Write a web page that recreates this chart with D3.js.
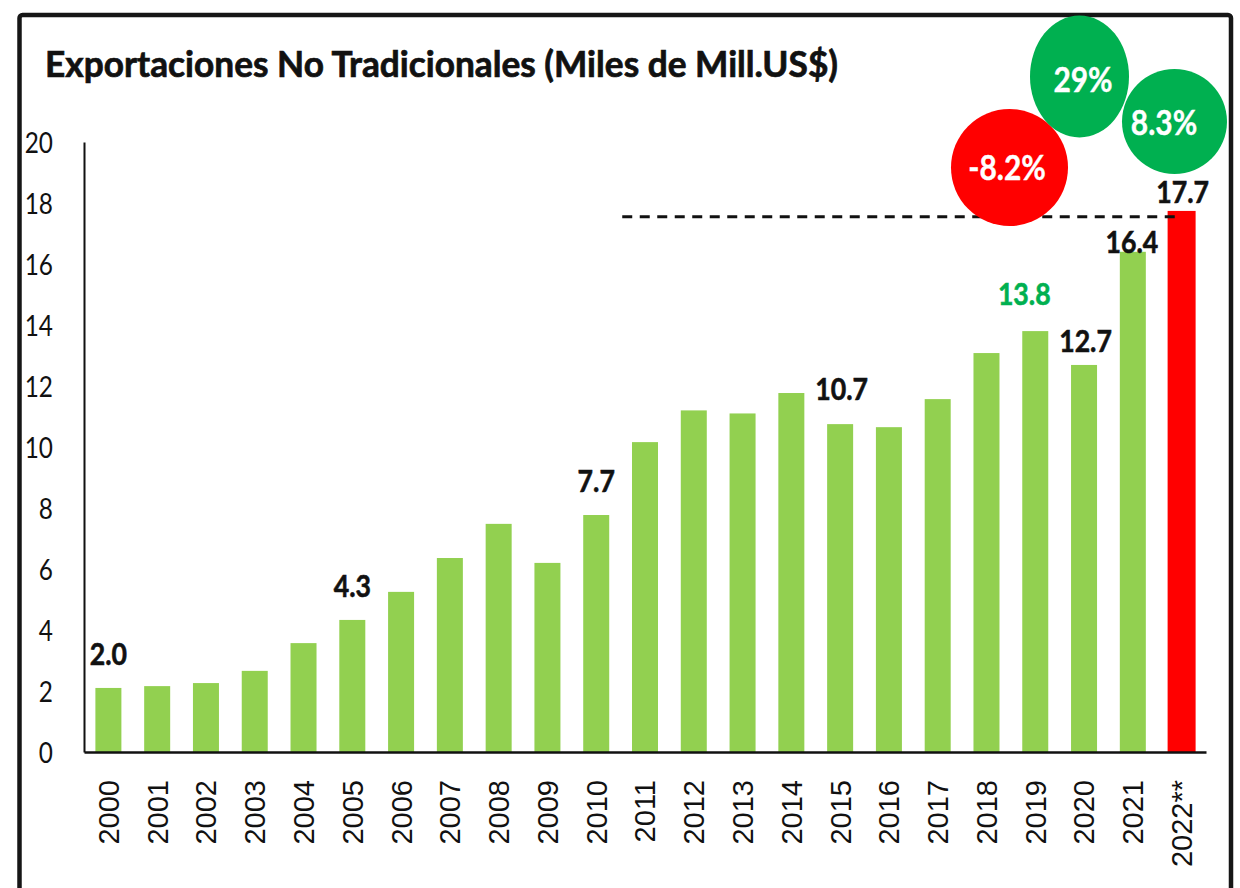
<!DOCTYPE html>
<html>
<head>
<meta charset="utf-8">
<script src="https://cdn.jsdelivr.net/npm/d3@7/dist/d3.min.js"></script>
<style>
  html, body { margin: 0; padding: 0; background: #fff; }
  svg { display: block; }
</style>
</head>
<body>
<svg id="chart" width="1240" height="888"></svg>
<script>
// ---- data ----
const years = ["2000","2001","2002","2003","2004","2005","2006","2007","2008","2009","2010",
               "2011","2012","2013","2014","2015","2016","2017","2018","2019","2020","2021","2022**"];
const values = [2.1, 2.16, 2.26, 2.66, 3.57, 4.33, 5.25, 6.36, 7.48, 6.2, 7.77,
                10.16, 11.2, 11.1, 11.77, 10.75, 10.65, 11.57, 13.08, 13.8, 12.69, 16.4, 17.74];
const yTicks = [0, 2, 4, 6, 8, 10, 12, 14, 16, 18, 20];
const labelYears = ["2000", "2005", "2010", "2015", "2019", "2020", "2021", "2022**"];
const labelTexts = ["2.0", "4.3", "7.7", "10.7", "13.8", "12.7", "16.4", "17.7"];
const growthTexts = ["-8.2%", "29%", "8.3%"];
const referenceLevel = 17.55;
const title = "Exportaciones No Tradicionales (Miles de Mill.US$)";

// ---- layout ----
const svg = d3.select("#chart");
const x = d3.scaleBand().domain(years).range([84, 1206]).paddingInner(0.467).paddingOuter(0.2335);
const y = d3.scaleLinear().domain([0, 20]).range([752, 142]);

// frame
svg.append("rect").attr("x", 19.5).attr("y", 15).attr("width", 1211.5).attr("height", 900)
  .attr("rx", 3).attr("fill", "none").attr("stroke", "#161616").attr("stroke-width", 4.5);

// title
svg.append("text").attr("x", 45).attr("y", 77)
  .attr("font-family", "Lato, 'Open Sans', sans-serif").attr("font-weight", 700)
  .attr("font-size", 36).attr("fill", "#111").attr("stroke", "#111").attr("stroke-width", 0.7)
  .attr("textLength", 793).attr("lengthAdjust", "spacingAndGlyphs")
  .text(title);

// bars
svg.append("g").selectAll("rect").data(years).join("rect")
  .attr("x", d => x(d) - (d === "2022**" ? 1 : 0))
  .attr("width", d => x.bandwidth() + (d === "2022**" ? 2 : 0))
  .attr("y", (d, i) => y(values[i]))
  .attr("height", (d, i) => y(0) - y(values[i]))
  .attr("fill", d => d === "2022**" ? "#FF0000" : "#92D050");

// y axis
const yAxis = svg.append("g").attr("transform", "translate(84,0)")
  .call(d3.axisLeft(y).tickValues(yTicks).tickSize(0).tickPadding(31).tickFormat(d3.format("d")));
yAxis.select(".domain").attr("stroke", "#111").attr("stroke-width", 2);
yAxis.selectAll("text")
  .attr("font-family", "Lato, 'Open Sans', sans-serif").attr("font-size", 29).attr("fill", "#111")
  .attr("x", null).attr("dy", "0.36em")
  .attr("transform", "translate(-31,0) scale(0.84,1)");

// x axis
const xAxis = svg.append("g").attr("transform", "translate(0,752)")
  .call(d3.axisBottom(x).tickSize(0).tickPadding(0));
xAxis.select(".domain").attr("stroke", "#111").attr("stroke-width", 2.5);
xAxis.selectAll("text")
  .attr("font-family", "'Liberation Sans', Arial, sans-serif").attr("font-size", 29).attr("fill", "#111")
  .attr("y", 0).attr("x", 0).attr("dy", "0.36em")
  .attr("text-anchor", "end")
  .attr("transform", "translate(0,28) rotate(-90)");

// reference dashed line
svg.append("line")
  .attr("x1", x("2011") - x.step() * 0.2).attr("x2", x("2022**") + x.bandwidth() / 2)
  .attr("y1", y(referenceLevel)).attr("y2", y(referenceLevel))
  .attr("stroke", "#111").attr("stroke-width", 3).attr("stroke-dasharray", "10,7.5");

// data labels
const labelShift = {"2000": [0, 23], "2005": [0, 23], "2010": [0, 23], "2015": [1.5, 24],
                    "2019": [-11, 26], "2020": [1.5, 13], "2021": [-1, -1], "2022**": [1, 8]};
labelYears.forEach((yr, i) => {
  const v = values[years.indexOf(yr)];
  const cx = x(yr) + x.bandwidth() / 2 + labelShift[yr][0];
  const cy = y(v) - labelShift[yr][1];
  const col = yr === "2019" ? "#00B050" : "#111";
  svg.append("text")
    .attr("transform", `translate(${cx},${cy}) scale(0.86,1)`)
    .attr("text-anchor", "middle")
    .attr("font-family", "Lato, 'Open Sans', sans-serif").attr("font-weight", 700)
    .attr("font-size", 31)
    .attr("fill", col).attr("stroke", col).attr("stroke-width", 0.6)
    .text(labelTexts[i]);
});

// growth bubbles
const bubbles = [
  {cx: 1009.5, cy: 167.5, rx: 58.5, ry: 58.5, fill: "#FF0000", tx: 1007, ty: 167.5},
  {cx: 1079.5, cy: 76.5, rx: 49.5, ry: 61, fill: "#00B050", tx: 1083, ty: 80},
  {cx: 1174.5, cy: 121.5, rx: 52.5, ry: 52.5, fill: "#00B050", tx: 1164, ty: 123}
];
bubbles.forEach((b, i) => {
  svg.append("ellipse").attr("cx", b.cx).attr("cy", b.cy).attr("rx", b.rx).attr("ry", b.ry)
    .attr("fill", b.fill);
  svg.append("text")
    .attr("transform", `translate(${b.tx},${b.ty}) scale(0.88,1)`)
    .attr("text-anchor", "middle").attr("dy", "0.36em")
    .attr("font-family", "Lato, 'Open Sans', sans-serif").attr("font-weight", 700)
    .attr("font-size", 34).attr("fill", "#fff").attr("stroke", "#fff").attr("stroke-width", 0.4)
    .text(growthTexts[i]);
});
</script>
</body>
</html>
